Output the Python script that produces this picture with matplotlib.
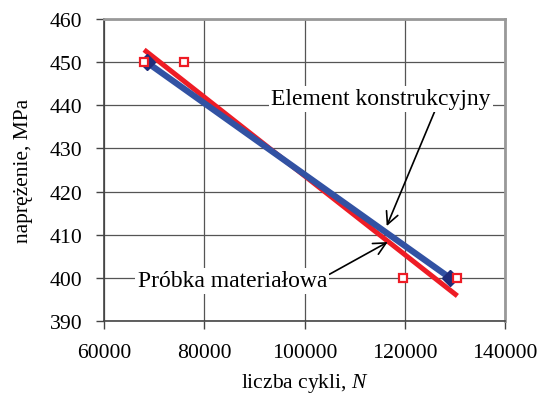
import numpy as np
import matplotlib
matplotlib.use("Agg")
import matplotlib.pyplot as plt

plt.rcParams['font.family'] = ['Liberation Serif', 'DejaVu Serif']
plt.rcParams['mathtext.fontset'] = 'custom'
plt.rcParams['mathtext.it'] = 'Liberation Serif:italic'
plt.rcParams['mathtext.rm'] = 'Liberation Serif'

# Próbka materiałowa (material specimen) - test points
probka_N = [68000, 76000, 119600, 130500]
probka_S = [450, 450, 400, 400]

# Element konstrukcyjny (structural element)
element_N = [68500, 129000]
element_S = [450, 400]

xticks = [60000, 80000, 100000, 120000, 140000]
yticks = [390, 400, 410, 420, 430, 440, 450, 460]

# linear trend through the specimen points
a, b = np.polyfit(probka_N, probka_S, 1)
fit_x = np.array([min(probka_N), max(probka_N)])
fit_y = a * fit_x + b

fig = plt.figure(figsize=(5.43, 4.02), dpi=100)
ax = fig.add_axes([104 / 543, 1 - 322 / 402, 401 / 543, 302 / 402])

ax.plot(fit_x, fit_y, color='#EE1C25', lw=3.6, solid_capstyle='butt', zorder=3)
ax.plot(element_N, element_S, color='#3252A3', lw=4.5, marker='D', ms=8,
        mfc='#1F2D7A', mec='#1F2D7A', solid_capstyle='butt', zorder=4)
ax.plot(probka_N, probka_S, ls='none', marker='s', ms=6, mfc='white',
        mec='#EE1C25', mew=1.6, zorder=5)

ax.set_xlim(60000, 140000)
ax.set_ylim(390, 460)
ax.set_xticks(xticks)
ax.set_yticks(yticks)
ax.tick_params(labelsize=15.7, direction='out', length=6, width=1, color='#444444')
ax.tick_params(axis='x', pad=9.5)
ax.tick_params(axis='y', pad=9.5)
ax.grid(True, color='#555555', lw=0.9)
ax.set_axisbelow(True)

for s in ['top', 'right']:
    ax.spines[s].set_color('#999999')
    ax.spines[s].set_linewidth(2)
for s in ['left', 'bottom']:
    ax.spines[s].set_color('#444444')
    ax.spines[s].set_linewidth(1.2)

ax.set_xlabel('liczba cykli, $N$', fontsize=15.5, labelpad=7)
ax.set_ylabel('naprężenie, MPa', fontsize=15.5, labelpad=12)

ax.annotate('Element konstrukcyjny', xy=(116400, 412), xytext=(115200, 441.5),
            fontsize=17, ha='center', va='center',
            bbox=dict(boxstyle='square,pad=0.1', fc='white', ec='none'),
            arrowprops=dict(arrowstyle='->', color='black', lw=1.2,
                            mutation_scale=22, shrinkA=0, shrinkB=0,
                            relpos=(0.75, 0)),
            zorder=6)
ax.annotate('Próbka materiałowa', xy=(116600, 408.3), xytext=(85600, 399.3),
            fontsize=17, ha='center', va='center',
            bbox=dict(boxstyle='square,pad=0.1', fc='white', ec='none'),
            arrowprops=dict(arrowstyle='->', color='black', lw=1.2,
                            mutation_scale=22, shrinkA=0, shrinkB=0,
                            relpos=(0.97, 0.6)),
            zorder=6)

fig.savefig('out.png', dpi=100)
